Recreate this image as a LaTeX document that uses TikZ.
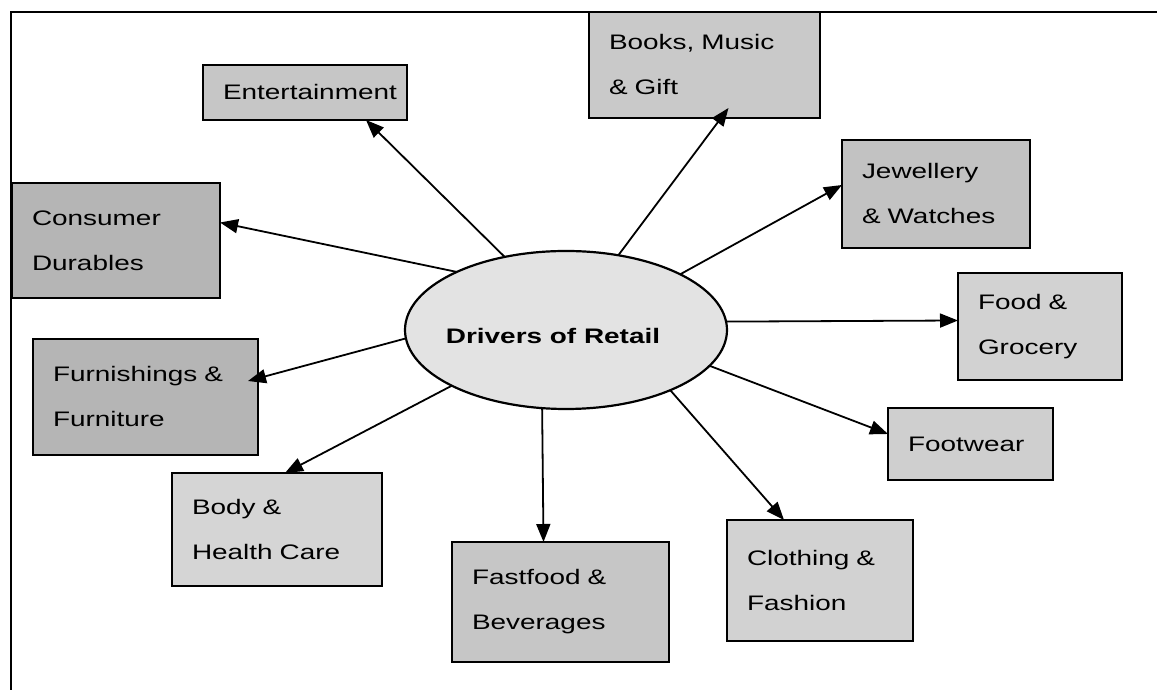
\documentclass[tikz,border=0pt]{standalone}
\usepackage{fontspec}
\setmainfont[FakeStretch=1.33]{Liberation Sans}
\usetikzlibrary{arrows.meta,calc,shapes.geometric}

\tikzset{
  frameline/.style={line width=2pt},
  bx/.style={draw, line width=2.4pt, rectangle, align=left, inner xsep=20pt,
             inner ysep=0pt, outer sep=0pt,
             font=\fontsize{21}{45}\selectfont},
  hub/.style={draw, line width=2.2pt, ellipse, fill=gray!22, inner sep=0pt,
              outer sep=0pt, minimum width=322, minimum height=158},
  arr/.style={line width=1.8pt, -{Triangle[length=18pt,width=14pt]}}
}

\begin{document}
\begin{tikzpicture}[x=1pt,y=1pt]
\useasboundingbox (0,0) rectangle (1157,690);

% page frame (top and left rules)
\coordinate (ftl) at (11,678);
\coordinate (ftr) at (1157,678);
\coordinate (fbl) at (11,0);
\draw[frameline] (ftr) -- (ftl) -- (fbl);

% central hub
\node[hub] (ell) at (566,360) {};
\node[font=\fontsize{21}{25}\selectfont\bfseries] (elltxt) at ($(ell.center)+(-13,-6)$) {Drivers of Retail};

% category boxes
\node[bx, fill=gray!45, minimum width=204, minimum height=55, text width=164pt] (ent) at (305,597.5) {Entertainment};
\node[bx, fill=gray!42, minimum width=231, minimum height=106, text width=191pt] (books) at (704.5,625) {Books, Music\\\& Gift};
\node[bx, fill=gray!48, minimum width=188, minimum height=108, text width=148pt] (jew) at (936,496) {Jewellery\\\& Watches};
\node[bx, fill=gray!58, minimum width=208, minimum height=115, text width=168pt] (cons) at (116,449.5) {Consumer\\Durables};
\node[bx, fill=gray!35, minimum width=164, minimum height=107, text width=124pt] (food) at (1040,363.5) {Food \&\\Grocery};
\node[bx, fill=gray!58, minimum width=225, minimum height=116, text width=185pt] (furn) at (145.5,293) {Furnishings \&\\Furniture};
\node[bx, fill=gray!38, minimum width=165, minimum height=72, text width=125pt] (foot) at (970.5,246) {Footwear};
\node[bx, fill=gray!33, minimum width=210, minimum height=113, text width=170pt] (body) at (277,160.5) {Body \&\\Health Care};
\node[bx, fill=gray!45, minimum width=217, minimum height=120, text width=177pt] (fast) at (560.5,88) {Fastfood \&\\Beverages};
\node[bx, fill=gray!35, minimum width=186, minimum height=121, text width=146pt] (cloth) at (820,109.5) {Clothing \&\\Fashion};

% connectors from the hub to each category
\draw[arr] (ell.130.6) -- ($(ent.south)+(61,0)$);
\draw[arr] (ell.55.3)  -- ($(books.south)+(24,10)$);
\draw[arr] (ell.26.8)  -- ($(jew.west)+(0,9)$);
\draw[arr] (ell.152.6) -- ($(cons.east)+(0,18)$);
\draw[arr] (ell.3.6)   -- ($(food.west)+(0,6)$);
\draw[arr] (ell.183.7) -- ($(furn.east)+(-10,16)$);
\draw[arr] (ell.-14.6) -- ($(foot.west)+(0,10)$);
\draw[arr] (ell.206)   -- ($(body.north)+(8,0)$);
\draw[arr] (ell.253.6) -- ($(fast.north)+(-17,0)$);
\draw[arr] (ell.-30.3) -- ($(cloth.north)+(-36,0)$);
\end{tikzpicture}
\end{document}
